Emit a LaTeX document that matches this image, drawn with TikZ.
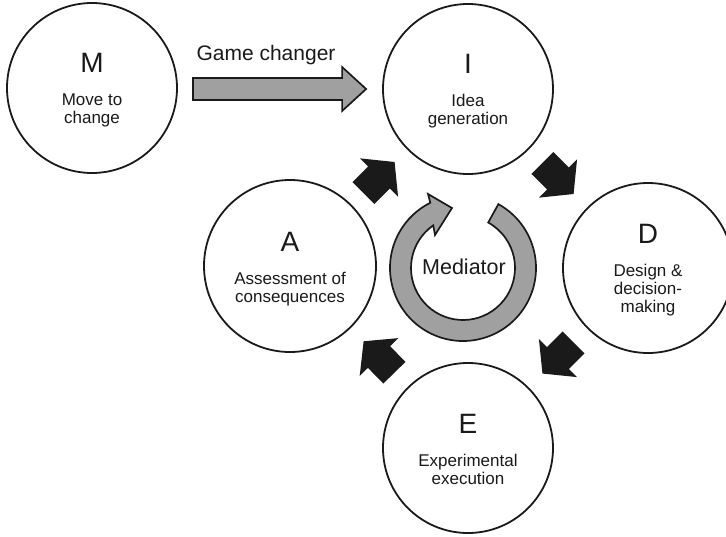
\documentclass[tikz,border=0pt]{standalone}
\usepackage{fontspec}
\setmainfont{Liberation Sans}
\usetikzlibrary{calc,positioning}
\definecolor{ink}{HTML}{1A1A1A}
\definecolor{shade}{HTML}{A0A0A0}
\begin{document}
\begin{tikzpicture}[x=1pt,y=-1pt,
  stage/.style={circle, draw=ink, line width=1.8pt, minimum size=170pt, inner sep=0pt, fill=white},
  letter/.style={font=\fontsize{28}{30}\selectfont, text=ink, inner sep=0pt},
  caption/.style={font=\fontsize{17}{18}\selectfont, text=ink, align=center, inner sep=0pt},
  grayarrow/.style={draw=ink, fill=shade, line width=1.7pt, line join=miter},
  blockarrow/.pic={\fill[ink] (-22,-15.5) -- (0,-15.5) -- (0,-27) -- (22,0) -- (0,27) -- (0,15.5) -- (-22,15.5) -- cycle;}
]
\useasboundingbox (0,0) rectangle (726,536);

% the five stages
\node[stage] (M) at (92,88) {};
\node[stage] (I) at (468,89) {};
\node[stage] (D) at (648,268) {};
\node[stage] (E) at (468,448) {};
\node[stage, minimum size=172pt] (A) at (290,266) {};

\node[caption] (Mtxt) at ([yshift=-22pt]M.center) {Move to\\change};
\node[letter, above=20pt of Mtxt] (Mltr) {M};
\node[caption] (Itxt) at ([yshift=-22pt]I.center) {Idea\\generation};
\node[letter, above=20pt of Itxt] (Iltr) {I};
\node[caption] (Dtxt) at ([yshift=-22pt]D.center) {Design \&\\decision-\\making};
\node[letter, above=20pt of Dtxt] (Dltr) {D};
\node[caption] (Etxt) at ([yshift=-21pt]E.center) {Experimental\\execution};
\node[letter, above=20pt of Etxt] (Eltr) {E};
\node[caption] (Atxt) at ([yshift=-23pt]A.center) {Assessment of\\consequences};
\node[letter, above=20pt of Atxt] (Altr) {A};

% game changer arrow from M to I
\coordinate (gs) at ($(M.east |- I.west)+(15,0)$);
\coordinate (ge) at ($(I.west)+(-16,0)$);
\draw[grayarrow] ($(gs)+(0,-11)$) -- ($(ge)+(-24,-11)$) -- ($(ge)+(-24,-22)$) -- (ge)
  -- ($(ge)+(-24,22)$) -- ($(ge)+(-24,11)$) -- ($(gs)+(0,11)$) -- cycle;
\node[font=\fontsize{21}{24}\selectfont, text=ink, anchor=base, inner sep=0pt] (gclbl) at (266,60) {Game changer};

% cycle arrows between the stages
\path let \p1=($(I)-(A)$) in ($(A)!0.5!(I)$) pic[rotate={atan2(\y1,\x1)}] {blockarrow};
\path let \p1=($(D)-(I)$) in ($(I)!0.5!(D)$) pic[rotate={atan2(\y1,\x1)}] {blockarrow};
\path let \p1=($(E)-(D)$) in ($(D)!0.5!(E)$) pic[rotate={atan2(\y1,\x1)}] {blockarrow};
\path let \p1=($(A)-(E)$) in ($(E)!0.5!(A)$) pic[rotate={atan2(\y1,\x1)}] {blockarrow};

% mediator ring
\coordinate (med) at (463,268);
\draw[grayarrow] ($(med)+(-61:73)$) arc[start angle=-61, end angle=243.4, radius=73]
  -- (428,194) -- (452,208) -- (435,235) -- ($(med)+(235.1:52)$)
  arc[start angle=235.1, end angle=-61, radius=52] -- cycle;
\node[font=\fontsize{21.5}{24}\selectfont, text=ink, inner sep=0pt] (medtxt) at (464,267) {Mediator};
\end{tikzpicture}
\end{document}
